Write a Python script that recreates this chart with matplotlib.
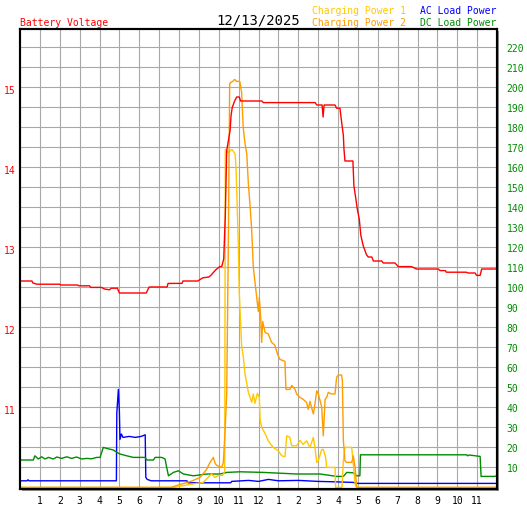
import matplotlib
matplotlib.use("Agg")
import matplotlib.pyplot as plt
from matplotlib.patches import Rectangle

# 時刻 (時) と値
volt_t = [0.0, 0.6, 0.65, 0.85, 2.0, 2.05, 2.9, 2.95, 3.5, 3.55, 4.1, 4.25, 4.5, 4.6, 4.9, 5.0,
          6.35, 6.5, 7.4, 7.45, 8.15, 8.2, 8.95, 9.0, 9.2, 9.5, 9.6, 9.85, 10.05, 10.15, 10.25,
          10.33, 10.4, 10.57, 10.62, 10.68, 10.8, 10.9, 11.03, 11.1, 12.16, 12.25, 14.85, 14.93,
          15.2, 15.25, 15.3, 15.85, 15.93, 16.1, 16.15, 16.27, 16.3, 16.35, 16.75, 16.8, 16.9,
          16.97, 17.07, 17.15, 17.27, 17.43, 17.52, 17.7, 17.78, 18.2, 18.28, 18.87, 19.03, 19.7,
          19.95, 21.05, 21.13, 21.4, 21.45, 22.45, 22.55, 22.9, 22.97, 23.15, 23.23, 24.0]
volt_v = [12.60, 12.60, 12.575, 12.56, 12.56, 12.55, 12.55, 12.54, 12.54, 12.52, 12.52, 12.50,
          12.49, 12.51, 12.51, 12.45, 12.45, 12.525, 12.525, 12.57, 12.57, 12.60, 12.60, 12.61,
          12.64, 12.65, 12.67, 12.74, 12.78, 12.78, 12.875, 13.42, 14.23, 14.48, 14.67, 14.77,
          14.85, 14.90, 14.90, 14.85, 14.85, 14.83, 14.83, 14.80, 14.80, 14.65, 14.80, 14.80,
          14.76, 14.76, 14.65, 14.42, 14.25, 14.10, 14.10, 13.79, 13.625, 13.5, 13.375, 13.17,
          13.04, 12.93, 12.90, 12.90, 12.85, 12.85, 12.825, 12.825, 12.78, 12.78, 12.75, 12.75,
          12.73, 12.73, 12.71, 12.71, 12.70, 12.70, 12.67, 12.67, 12.75, 12.75]

chg1_t = [0.0, 7.8, 8.0, 8.7, 9.22, 9.47, 9.64, 9.8, 10.0, 10.2, 10.3, 10.33, 10.47, 10.67,
          10.82, 10.87, 10.98, 11.03, 11.15, 11.24, 11.32, 11.41, 11.49, 11.66, 11.74, 11.82,
          11.94, 12.04, 12.08, 12.16, 12.33, 12.49, 12.74, 13.0, 13.17, 13.33, 13.42, 13.58,
          13.67, 13.92, 14.09, 14.25, 14.42, 14.59, 14.76, 14.84, 14.93, 15.01, 15.18, 15.26,
          15.38, 15.43, 15.85, 15.88, 16.2, 16.27, 16.35, 16.69, 16.77, 16.86, 16.94, 24.0]
chg1_p = [0, 0, 0.5, 1.7, 2.5, 5, 6.7, 5, 6, 6, 8, 169, 167.5, 169, 166.7, 160, 123, 98, 71,
          65, 56.7, 52, 47.5, 42.5, 46.7, 42, 47, 45, 34, 30, 27, 23.3, 20, 18.3, 15.8, 15.3,
          25.8, 25, 20.8, 20.8, 23.5, 21.5, 23.3, 20, 25, 20, 12.5, 13.3, 19, 19, 15, 10, 10,
          0, 0, 13.3, 20, 20, 11.7, 1.7, 0, 0]

chg2_t = [0.0, 7.6, 7.9, 8.15, 8.68, 9.06, 9.39, 9.56, 9.73, 9.82, 9.9, 10.15, 10.23, 10.31,
          10.4, 10.48, 10.55, 10.7, 10.8, 10.9, 11.06, 11.15, 11.23, 11.32, 11.41, 11.49, 11.57,
          11.66, 11.74, 11.82, 11.91, 11.99, 12.04, 12.11, 12.16, 12.21, 12.33, 12.49, 12.66,
          12.83, 12.95, 13.08, 13.33, 13.38, 13.58, 13.67, 13.84, 13.92, 14.09, 14.25, 14.42,
          14.5, 14.59, 14.67, 14.76, 14.84, 14.93, 15.01, 15.1, 15.18, 15.26, 15.35, 15.43,
          15.51, 15.68, 15.85, 15.93, 16.02, 16.18, 16.22, 16.27, 16.35, 16.43, 16.69, 16.77,
          16.86, 16.94, 24.0]
chg2_p = [0, 0, 1, 1.7, 3.3, 5, 9, 12.5, 15, 12, 11, 10, 12.5, 26.7, 46.7, 120, 202, 203,
          204, 203, 203, 197.5, 180, 172, 166.7, 151.7, 141.7, 128, 110, 103, 95, 88, 95, 85,
          72.5, 83, 77.5, 76.7, 72.5, 71, 66.7, 64, 63, 49, 49, 51, 49, 46.7, 45, 44, 42.5, 39,
          43, 40, 36.7, 41.7, 48.3, 46.7, 43.3, 40, 25.8, 44, 45, 47.5, 46.7, 46.7, 55, 56.2,
          56.2, 53.3, 23.3, 13.3, 12.5, 12.5, 15.8, 10, 0, 0]

ac_t = [0.0, 0.35, 0.4, 0.45, 4.85, 4.87, 4.95, 5.0, 5.03, 5.1, 5.18, 5.5, 5.8, 6.1, 6.3,
        6.33, 6.4, 6.6, 8.4, 8.45, 10.6, 10.65, 11.5, 12.0, 12.5, 13.0, 14.0, 15.0, 15.8,
        16.75, 17.0, 24.0]
ac_p = [3.3, 3.3, 3.8, 3.3, 3.3, 37, 49, 38, 24, 26.7, 25, 25.5, 25, 25.5, 26.3, 5, 4, 3.3,
        3.3, 2.3, 2.3, 3, 3.5, 3, 4, 3.3, 3.5, 3.0, 2.8, 2.5, 2, 2]

dc_t = [0.0, 0.67, 0.75, 0.92, 1.09, 1.26, 1.43, 1.68, 1.85, 2.1, 2.35, 2.6, 2.85, 3.1, 3.36,
        3.6, 3.86, 4.03, 4.19, 4.36, 4.7, 4.87, 5.03, 5.37, 5.7, 6.29, 6.38, 6.71, 6.8, 7.13,
        7.3, 7.38, 7.47, 7.72, 7.97, 8.22, 8.72, 9.39, 10.06, 10.4, 11.07, 12.24, 13.92, 15.1,
        15.93, 16.27, 16.44, 16.77, 16.94, 17.1, 17.13, 22.47, 22.52, 22.6, 23.15, 23.2, 23.9,
        24.0]
dc_p = [13.7, 13.7, 15.8, 14.2, 15.3, 14.2, 15.0, 14.2, 15.2, 14.5, 15.3, 14.5, 15.2, 14.2,
        14.5, 14.3, 15.0, 15.0, 20.0, 19.5, 18.7, 17.5, 16.7, 15.8, 15.0, 15.0, 13.7, 13.7,
        15.0, 15.0, 14.2, 10, 5.8, 7.5, 8.3, 6.7, 5.8, 6.7, 6.7, 7.5, 7.8, 7.5, 6.7, 6.7, 5.5,
        5.5, 7.5, 7.3, 5.8, 5.8, 16.3, 16.3, 15.8, 16.2, 15.5, 5.5, 5.5, 6]

hour_ticks = list(range(1, 24))
hour_labels = [str(h if h <= 12 else h - 12) for h in hour_ticks]
volt_ticks = [11, 12, 13, 14, 15]
power_ticks = list(range(10, 230, 10))

RED = "#FF0000"
GOLD = "#FFC800"
ORANGE = "#FF9C00"
BLUE = "#0000FF"
GREEN = "#008C00"
mono = "DejaVu Sans Mono"

W, H = 527, 510
fig = plt.figure(figsize=(W / 100, H / 100), dpi=100)
L, R, T, B = 20, 497, 30, 490
ax = fig.add_axes([L / W, 1 - B / H, (R - L) / W, (B - T) / H])
ax2 = ax.twinx()

# 影
fig.add_artist(Rectangle(((L + 2) / W, 1 - (B + 2) / H), (R - L) / W, (B - T) / H,
                         transform=fig.transFigure, facecolor="#909090", edgecolor="none",
                         zorder=-5))

ax.set_xlim(0, 24)
ax.set_ylim(10, 15.75)
ax2.set_ylim(-0.8, 229.2)

# グリッドは下の軸 (ax2) に描く
for h in range(1, 24):
    ax2.axvline(h, color="#A8A8A8", lw=0.8, zorder=0)
for p in range(10, 230, 10):
    ax2.axhline(p, color="#A8A8A8", lw=0.8, zorder=0)

ax2.plot(ac_t, ac_p, color=BLUE, lw=1.0)
ax2.plot(dc_t, dc_p, color=GREEN, lw=1.0)
ax2.plot(chg1_t, chg1_p, color=GOLD, lw=1.0)
ax2.plot(chg2_t, chg2_p, color=ORANGE, lw=1.0)
ax.plot(volt_t, volt_v, color=RED, lw=1.0)

ax.set_zorder(ax2.get_zorder() + 1)
ax.patch.set_visible(False)
ax2.patch.set_visible(True)
ax2.patch.set_facecolor("white")

ax.set_xticks(hour_ticks)
ax.set_xticklabels(hour_labels, fontsize=7, family=mono)
ax.set_yticks(volt_ticks)
ax.set_yticklabels([str(t) for t in volt_ticks], fontsize=7, family=mono, color=RED)
ax.tick_params(axis="both", length=0)
ax.tick_params(axis="x", pad=4)
ax.tick_params(axis="y", pad=3)
ax2.set_yticks(power_ticks)
ax2.set_yticklabels([str(t) for t in power_ticks], fontsize=7, family=mono, color=GREEN)
ax2.tick_params(axis="y", length=0, pad=7)

for a in (ax, ax2):
    for s in a.spines.values():
        s.set_color("black")
        s.set_linewidth(1.5)

def ftxt(x, y, s, color, size=7, ha="left"):
    fig.text(x / W, 1 - y / H, s, color=color, fontsize=size, family=mono,
             ha=ha, va="baseline")

ftxt(20, 26, "Battery Voltage", RED)
ftxt(300, 25, "12/13/2025", "black", size=10, ha="right")
ftxt(406, 14, "Charging Power 1", GOLD, ha="right")
ftxt(406, 26, "Charging Power 2", ORANGE, ha="right")
ftxt(496, 14, "AC Load Power", BLUE, ha="right")
ftxt(496, 26, "DC Load Power", GREEN, ha="right")

fig.savefig("out.png", dpi=100)
